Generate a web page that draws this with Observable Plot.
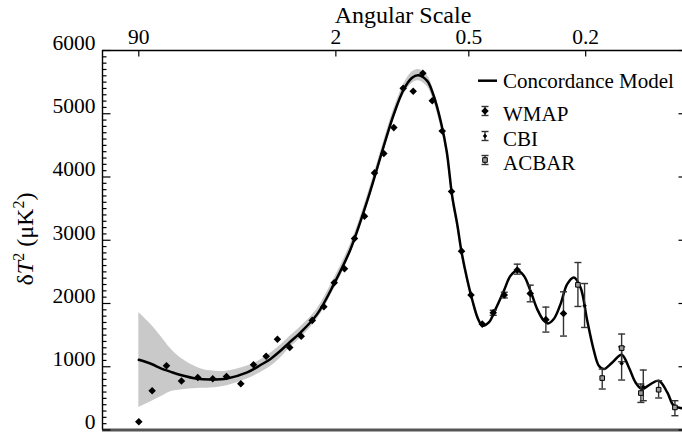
<!DOCTYPE html>
<html>
<head>
<meta charset="utf-8">
<script src="https://cdn.jsdelivr.net/npm/d3@7"></script>
<script src="https://cdn.jsdelivr.net/npm/@observablehq/plot@0.6"></script>
<style>
  html, body { margin: 0; padding: 0; background: white; overflow: hidden; }
  #chart { width: 682px; height: 434px; overflow: hidden; }
  #chart svg text { font-family: 'Liberation Serif', 'Times New Roman', serif !important; }
</style>
</head>
<body>
<div id="chart"></div>
<script>
// ---------- Data ----------
// Concordance model curve: multipole l and δT² (μK²)
const modelL = [2, 3, 3.8, 5, 6.4, 9.4, 12.4, 17.2, 24.7, 30.9, 36, 42.2, 48, 56.4, 70.8, 87.8, 107.6, 130.7, 157.1, 174.8, 194, 211, 225, 245, 260, 280, 295, 310, 325, 338, 355, 372, 390, 405, 427.8, 452.5, 484.7, 511.8, 540, 569, 599, 631, 663.8, 684, 715, 751.7, 789, 828, 868, 910, 953, 986, 1020, 1080, 1149, 1205, 1258, 1313, 1385, 1458, 1536, 1598, 1685, 1725];
const modelV = [1110, 1040, 979, 920, 869, 810, 800, 815, 910, 1027, 1120, 1253, 1380, 1540, 1832, 2306, 2859, 3622, 4491, 4992, 5387, 5570, 5610, 5520, 5300, 4850, 4400, 3700, 3240, 2800, 2380, 2040, 1760, 1650, 1700, 1911, 2201, 2438, 2516, 2438, 2201, 1911, 1727, 1685, 1754, 1990, 2306, 2411, 2253, 1727, 1253, 1016, 964, 1068, 1190, 989, 752, 648, 727, 779, 594, 384, 341, 330];

// Cosmic-variance band (grey)
const bandL  = [2, 3, 3.8, 5, 6.4, 9.4, 12.4, 17.2, 24.7, 30.9, 36, 42.2, 48, 56.4, 70.8, 87.8, 107.6, 130.7, 157.1, 174.8, 194, 211, 225, 245, 260, 280, 295, 310, 325, 338, 355, 372, 390, 405];
const bandLo = [357, 455, 520, 605, 633, 655, 663, 700, 806, 910, 1000, 1140, 1290, 1450, 1750, 2220, 2780, 3540, 4410, 4910, 5300, 5480, 5520, 5430, 5215, 4765, 4320, 3625, 3170, 2735, 2320, 1990, 1720, 1625];
const bandHi = [1858, 1650, 1490, 1285, 1140, 990, 935, 930, 1010, 1110, 1210, 1340, 1470, 1630, 1915, 2390, 2940, 3700, 4570, 5075, 5470, 5660, 5700, 5610, 5385, 4935, 4480, 3775, 3310, 2865, 2440, 2090, 1800, 1675];

// WMAP binned points
const wmapL = [2, 3.01, 4.48, 6.53, 9.49, 13.0, 17.0, 22.1, 27.5, 33.8, 40.3, 48.4, 57.0, 66.3, 77.3, 88.2, 100.1, 112.8, 126.7, 141.8, 157.1, 174.8, 192.8, 213.4, 234.9, 257.3, 282.8, 308.2, 337.5, 367, 404.6, 443.9, 486.3, 540, 598, 674, 768];
const wmapV = [131, 621, 1016, 774, 831, 810, 847, 731, 1031, 1166, 1434, 1305, 1482, 1733, 1948, 2327, 2548, 3027, 3380, 4065, 4370, 4781, 5403, 5355, 5640, 5207, 4728, 3770, 2828, 2135, 1674, 1853, 2133, 2530, 2158, 1745, 1842];
// WMAP error bars (only where visible)
const wmapErrL  = [443.9, 486.3, 540, 598, 674, 768];
const wmapErrLo = [1813, 2088, 2464, 2027, 1548, 1485];
const wmapErrHi = [1893, 2178, 2622, 2290, 1943, 2185];

// CBI
const cbiL  = [893, 1149, 1322];
const cbiV  = [1963, 1052, 684];
const cbiLo = [1621, 790, 463];
const cbiHi = [2316, 1316, 948];

// ACBAR
const acbarL  = [852, 1009, 1149, 1302, 1456, 1609];
const acbarV  = [2295, 821, 1295, 584, 637, 357];
const acbarLo = [1953, 648, 1079, 436, 506, 226];
const acbarHi = [2648, 963, 1517, 727, 779, 463];

// Axes
const yMajorTicks = [0, 1000, 2000, 3000, 4000, 5000, 6000];
const angleLabels = ["90", "2", "0.5", "0.2"];   // degrees
const angleValues = [90, 2, 0.5, 0.2];
const xDomain = [0.5, 1725];
const yDomain = [0, 6000];

// ---------- Build tables ----------
const model = modelL.map((l, i) => ({l, v: modelV[i]}));
const band = bandL.map((l, i) => ({l, lo: bandLo[i], hi: bandHi[i]}));
const wmap = wmapL.map((l, i) => ({l, v: wmapV[i]}));
const cbi = cbiL.map((l, i) => ({l, v: cbiV[i], lo: cbiLo[i], hi: cbiHi[i]}));
const acbar = acbarL.map((l, i) => ({l, v: acbarV[i], lo: acbarLo[i], hi: acbarHi[i]}));
const errs = [
  ...wmapErrL.map((l, i) => ({l, lo: wmapErrLo[i], hi: wmapErrHi[i]})),
  ...cbi, ...acbar
];
const angleTickL = angleValues.map(a => 180 / a);
const labelMap = new Map(angleTickL.map((l, i) => [Math.round(l), angleLabels[i]]));
const yMinorTicks = d3.range(yDomain[0], yDomain[1] + 1, 100).filter(d => d % 1000 !== 0);

// custom symbols
const sym = (f) => ({draw(ctx) { f(ctx); }});
const capSym = sym(c => { c.moveTo(-3.5, 0); c.lineTo(3.5, 0); });
const leftMajor = sym(c => { c.moveTo(0, 0); c.lineTo(8, 0); });
const leftMinor = sym(c => { c.moveTo(0, 0); c.lineTo(4, 0); });
const rightMajor = sym(c => { c.moveTo(0, 0); c.lineTo(-8, 0); });
const topTick = sym(c => { c.moveTo(0, 0); c.lineTo(0, 6); });

const FONT = "'Liberation Serif', 'Times New Roman', serif";

const chart = Plot.plot({
  width: 686,
  height: 434,
  marginLeft: 102,
  marginRight: 0,
  marginTop: 50,
  marginBottom: 4.5,
  style: {fontFamily: FONT, fontSize: "21px", background: "white", color: "black", maxWidth: "none"},
  x: {type: "pow", exponent: 0.25, domain: xDomain},
  y: {domain: yDomain},
  marks: [
    Plot.areaY(band, {x: "l", y1: "lo", y2: "hi", fill: "#c9c9c9", curve: "catmull-rom"}),
    Plot.line(model, {x: "l", y: "v", stroke: "black", strokeWidth: 2.5, curve: "catmull-rom"}),
    Plot.ruleX(errs, {x: "l", y1: "lo", y2: "hi", stroke: "#333", strokeWidth: 1.4}),
    Plot.dot(errs, {x: "l", y: "lo", symbol: capSym, r: 3, stroke: "#333", fill: "none", strokeWidth: 1.4}),
    Plot.dot(errs, {x: "l", y: "hi", symbol: capSym, r: 3, stroke: "#333", fill: "none", strokeWidth: 1.4}),
    Plot.dot(wmap, {x: "l", y: "v", symbol: "diamond2", r: 3.4, fill: "black", stroke: "none"}),
    Plot.dot(cbi, {x: "l", y: "v", symbol: "diamond2", r: 2, fill: "black", stroke: "none"}),
    Plot.dot(acbar, {x: "l", y: "v", symbol: "square", r: 2.6, fill: "#9a9a9a", stroke: "black", strokeWidth: 1}),
    // frame
    Plot.ruleY([yDomain[0]], {stroke: "#555", strokeWidth: 3}),
    Plot.ruleY([yDomain[1]], {stroke: "black", strokeWidth: 1.4}),
    Plot.ruleX([xDomain[0]], {stroke: "black", strokeWidth: 1.4}),
    // ticks
    Plot.dot(yMajorTicks, {x: () => xDomain[0], y: d => d, symbol: leftMajor, r: 3, stroke: "black", fill: "none", strokeWidth: 1.2}),
    Plot.dot(yMinorTicks, {x: () => xDomain[0], y: d => d, symbol: leftMinor, r: 3, stroke: "black", fill: "none", strokeWidth: 1.2}),
    Plot.dot(yMajorTicks, {x: () => xDomain[1], y: d => d, symbol: rightMajor, r: 3, stroke: "black", fill: "none", strokeWidth: 1.2}),
    Plot.dot(angleTickL, {x: d => d, y: () => yDomain[1], symbol: topTick, r: 3, stroke: "black", fill: "none", strokeWidth: 1.2}),
    Plot.axisY({ticks: yMajorTicks, tickSize: 0, tickPadding: 7, dy: -7.5, tickFormat: d => String(d), label: null, fontSize: 21.5, fontFamily: FONT}),
    Plot.axisX({anchor: "top", ticks: angleTickL, tickSize: 0, tickPadding: 7, tickFormat: d => labelMap.get(Math.round(d)), label: null, fontSize: 21.5, fontFamily: FONT})
  ]
});
chart.style.maxWidth = "none";
document.getElementById("chart").appendChild(chart);

// ---------- Titles & legend ----------
const svg = d3.select(chart);
svg.selectAll("g").attr("font-family", FONT);
svg.selectAll("text").attr("font-family", FONT).style("font-family", FONT);

svg.append("text")
  .attr("x", 403).attr("y", 23)
  .attr("text-anchor", "middle")
  .attr("font-family", FONT).attr("font-size", 24)
  .attr("fill", "black")
  .text("Angular Scale");

const yl = svg.append("text")
  .attr("transform", "translate(33,239) rotate(-90)")
  .attr("text-anchor", "middle")
  .attr("font-family", FONT).attr("font-size", 24)
  .attr("fill", "black")
  .style("white-space", "pre");
yl.append("tspan").text("δ");
yl.append("tspan").attr("font-style", "italic").text("T");
yl.append("tspan").attr("font-size", 16).attr("dy", -9).text("2");
yl.append("tspan").attr("dy", 9).text(" (μK");
yl.append("tspan").attr("font-size", 16).attr("dy", -9).text("2");
yl.append("tspan").attr("dy", 9).text(")");

const lg = svg.append("g").attr("font-family", FONT).attr("font-size", 21).attr("fill", "black").attr("text-anchor", "start");
lg.append("line").attr("x1", 478).attr("x2", 497).attr("y1", 80.7).attr("y2", 80.7)
  .attr("stroke", "black").attr("stroke-width", 2.5);
lg.append("text").attr("x", 503).attr("y", 87.5).attr("text-anchor", "start").text("Concordance Model");

const legendItems = [
  {name: "WMAP", cy: 111, base: 121, type: d3.symbolDiamond2, size: Math.PI * 3.4 * 3.4, fill: "black", stroke: "none"},
  {name: "CBI", cy: 136, base: 146, type: d3.symbolDiamond2, size: Math.PI * 2 * 2, fill: "black", stroke: "none"},
  {name: "ACBAR", cy: 160, base: 170, type: d3.symbolSquare, size: Math.PI * 2.6 * 2.6, fill: "#9a9a9a", stroke: "black"}
];
for (const it of legendItems) {
  const mx = 485;
  lg.append("line").attr("x1", mx).attr("x2", mx).attr("y1", it.cy - 4.5).attr("y2", it.cy + 4.5).attr("stroke", "#333").attr("stroke-width", 1.4);
  lg.append("line").attr("x1", mx - 3.5).attr("x2", mx + 3.5).attr("y1", it.cy - 4.5).attr("y2", it.cy - 4.5).attr("stroke", "#333").attr("stroke-width", 1.4);
  lg.append("line").attr("x1", mx - 3.5).attr("x2", mx + 3.5).attr("y1", it.cy + 4.5).attr("y2", it.cy + 4.5).attr("stroke", "#333").attr("stroke-width", 1.4);
  lg.append("path").attr("transform", `translate(${mx},${it.cy})`)
    .attr("d", d3.symbol(it.type, it.size)())
    .attr("fill", it.fill).attr("stroke", it.stroke).attr("stroke-width", 1);
  lg.append("text").attr("x", 503).attr("y", it.base).attr("text-anchor", "start").text(it.name);
}
</script>
</body>
</html>
